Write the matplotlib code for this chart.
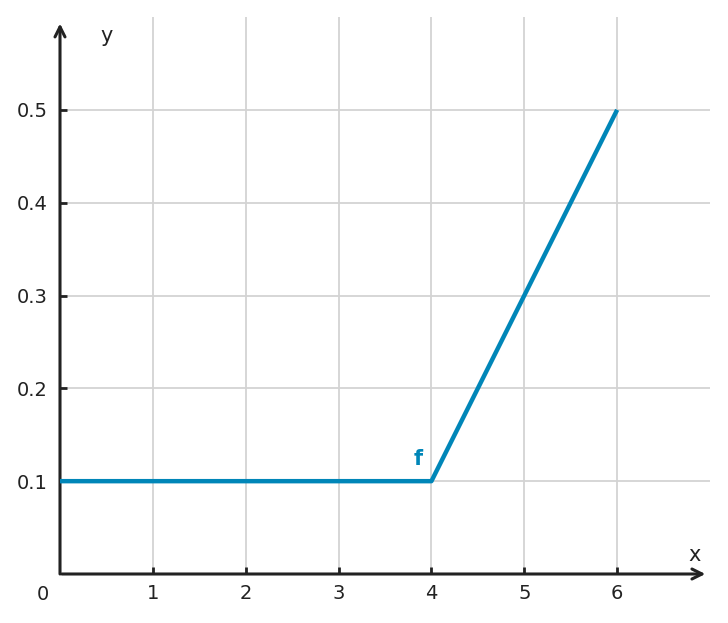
import numpy as np
import matplotlib.pyplot as plt

# piecewise function f
x_pts = [0, 4, 6]
y_pts = [0.1, 0.1, 0.5]

x_ticks = [1, 2, 3, 4, 5, 6]
y_ticks = [0.1, 0.2, 0.3, 0.4, 0.5]

line_color = "#0086b8"
text_color = "#222222"

fig = plt.figure(figsize=(7.28, 6.23), dpi=100)
ax = fig.add_axes([60 / 728, 49 / 623, 650 / 728, 557 / 623])
ax.set_xlim(0, 7)
ax.set_ylim(0, 0.6)

for s in ax.spines.values():
    s.set_visible(False)

# grid
for xt in x_ticks:
    ax.axvline(xt, color="#d3d3d3", lw=1.3, zorder=0)
for yt in y_ticks:
    ax.axhline(yt, color="#d3d3d3", lw=1.3, zorder=0)

# axes with arrows
ax.annotate("", xy=(6.95, 0), xytext=(0.02, 0),
            arrowprops=dict(arrowstyle="->", color=text_color, lw=2.2,
                            mutation_scale=18, shrinkA=0, shrinkB=0),
            annotation_clip=False)
ax.annotate("", xy=(0, 0.593), xytext=(0, 0.0),
            arrowprops=dict(arrowstyle="->", color=text_color, lw=2.2,
                            mutation_scale=18, shrinkA=0, shrinkB=0),
            annotation_clip=False)

ax.tick_params(axis="both", direction="in", length=5, width=2, colors=text_color,
               labelsize=14, pad=7)
ax.set_xticks(x_ticks)
ax.set_xticklabels([str(v) for v in x_ticks])
ax.set_yticks(y_ticks)
ax.set_yticklabels(["{:.1f}".format(v) for v in y_ticks])
ax.tick_params(axis="y", pad=9)

ax.text(-0.185, -0.022, "0", ha="center", va="center", fontsize=14, color=text_color)
ax.text(0.5, 0.579, "y", ha="center", va="center", fontsize=15, color=text_color)
ax.text(6.83, 0.021, "x", ha="center", va="center", fontsize=15, color=text_color)

ax.plot(x_pts, y_pts, color=line_color, lw=3.2, solid_capstyle="butt", zorder=3)
ax.text(3.86, 0.124, "f", ha="center", va="center", fontsize=15,
        fontweight="bold", color=line_color)

fig.savefig("out.png", dpi=100)
